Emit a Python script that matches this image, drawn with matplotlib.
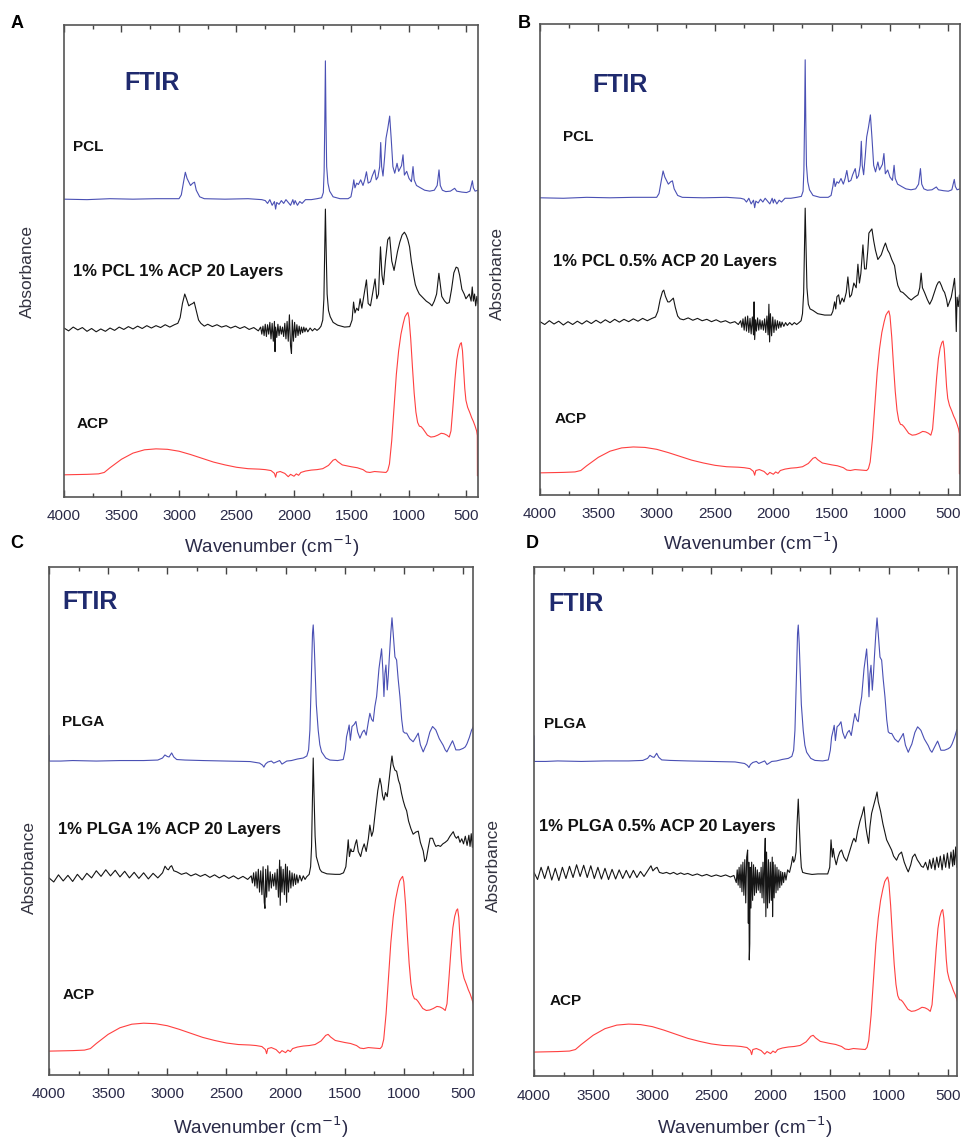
import matplotlib
matplotlib.use("Agg")
import matplotlib.pyplot as plt
import numpy as np

plt.rcParams['font.family'] = ['Liberation Sans', 'DejaVu Sans']

## spectra: (wavenumber, absorbance in panel-height units)
pcl = [(4000, .631), (3800, .630), (3600, .632), (3400, .631), (3200, .632), (3000, .632),
       (2980, .640), (2960, .668), (2945, .688), (2930, .675), (2900, .660), (2880, .665),
       (2865, .667), (2850, .650), (2820, .636), (2780, .632), (2600, .631), (2400, .632),
       (2280, .630), (2250, .628), (2230, .622), (2210, .630), (2190, .618), (2170, .626),
       (2160, .610), (2150, .624), (2130, .620), (2110, .628), (2090, .622), (2070, .630),
       (2050, .624), (2030, .618), (2010, .630), (2000, .620), (1990, .628), (1970, .618),
       (1950, .626), (1930, .622), (1900, .630), (1850, .630), (1800, .632), (1760, .634),
       (1745, .645), (1738, .690), (1732, .800), (1727, .924), (1722, .800), (1716, .700),
       (1705, .665), (1690, .648), (1660, .636), (1600, .632), (1530, .632), (1505, .636),
       (1490, .655), (1480, .672), (1470, .655), (1455, .665), (1440, .662), (1420, .672),
       (1400, .660), (1385, .672), (1370, .689), (1355, .665), (1335, .668), (1320, .680),
       (1298, .693), (1285, .672), (1270, .678), (1255, .700), (1246, .751), (1238, .700),
       (1226, .680), (1212, .720), (1200, .760), (1185, .780), (1168, .807), (1155, .760),
       (1140, .700), (1124, .686), (1104, .707), (1090, .690), (1065, .702), (1052, .725),
       (1040, .682), (1020, .690), (1000, .675), (979, .668), (965, .700), (955, .672),
       (935, .660), (900, .655), (864, .650), (820, .648), (780, .650), (755, .660),
       (739, .693), (728, .660), (710, .650), (680, .647), (640, .648), (603, .654),
       (585, .648), (540, .646), (500, .645), (470, .648), (449, .670), (440, .655),
       (425, .648), (400, .650)]

acp = [(4000, .047), (3800, .048), (3700, .049), (3650, .052), (3600, .062), (3500, .080),
       (3400, .093), (3300, .100), (3200, .102), (3100, .101), (3000, .097), (2900, .090),
       (2800, .082), (2700, .074), (2600, .068), (2500, .063), (2400, .060), (2300, .059),
       (2250, .058), (2200, .056), (2170, .050), (2160, .042), (2150, .052), (2120, .054),
       (2080, .050), (2050, .043), (2030, .048), (2000, .044), (1980, .049), (1960, .046),
       (1940, .052), (1900, .055), (1850, .057), (1800, .058), (1750, .060), (1700, .067),
       (1660, .078), (1640, .080), (1620, .075), (1580, .068), (1500, .064), (1450, .062),
       (1400, .058), (1370, .053), (1340, .052), (1300, .054), (1250, .053), (1200, .052),
       (1185, .056), (1170, .070), (1150, .120), (1130, .190), (1110, .260), (1090, .310),
       (1070, .345), (1050, .368), (1035, .382), (1020, .388), (1010, .391), (1000, .380),
       (985, .335), (970, .275), (955, .220), (940, .180), (925, .158), (910, .150),
       (895, .149), (880, .145), (860, .138), (840, .131), (810, .127), (780, .128),
       (750, .131), (720, .135), (695, .134), (670, .131), (650, .127), (635, .140),
       (620, .185), (600, .250), (585, .290), (570, .312), (555, .324), (545, .327),
       (535, .310), (525, .270), (515, .230), (505, .205), (490, .190), (470, .178),
       (455, .168), (440, .160), (425, .150), (412, .140), (406, .130), (405, .045),
       (400, .045)]

plga = [(4000, .668), (3998, .618), (3900, .618), (3800, .619), (3600, .618), (3400, .619),
        (3200, .619), (3080, .620), (3040, .624), (3020, .630), (3000, .627), (2985, .626),
        (2963, .634), (2945, .626), (2920, .621), (2850, .620), (2700, .619), (2500, .618),
        (2300, .617), (2220, .614), (2195, .610), (2183, .606), (2170, .612), (2150, .616),
        (2120, .618), (2100, .614), (2080, .616), (2050, .619), (2030, .612), (2010, .615),
        (1990, .618), (1950, .619), (1900, .622), (1850, .624), (1820, .628), (1805, .640),
        (1794, .679), (1782, .780), (1772, .870), (1766, .886), (1758, .850), (1750, .797),
        (1740, .730), (1724, .679), (1710, .650), (1695, .636), (1660, .624), (1625, .620),
        (1560, .619), (1512, .621), (1495, .640), (1484, .666), (1470, .680), (1462, .689),
        (1452, .659), (1438, .686), (1420, .690), (1405, .696), (1390, .675), (1371, .663),
        (1350, .675), (1335, .679), (1318, .669), (1300, .695), (1287, .712), (1272, .700),
        (1259, .696), (1245, .725), (1230, .745), (1210, .800), (1188, .839), (1178, .800),
        (1168, .745), (1160, .790), (1151, .807), (1140, .758), (1130, .790), (1123, .820),
        (1110, .870), (1100, .900), (1090, .870), (1075, .823), (1061, .817), (1048, .780),
        (1033, .745), (1018, .700), (1005, .676), (990, .673), (976, .673), (950, .662),
        (921, .656), (900, .664), (878, .673), (860, .650), (836, .636), (820, .645),
        (806, .652), (780, .675), (757, .686), (740, .682), (729, .679), (700, .662),
        (667, .649), (650, .640), (636, .636), (610, .648), (588, .658), (575, .650),
        (560, .640), (530, .640), (498, .643), (480, .646), (466, .652), (445, .665),
        (427, .679), (415, .684), (405, .690), (400, .692)]

mix_a = [(4000, .358), (3960, .352), (3920, .360), (3880, .354), (3840, .359), (3800, .351),
         (3760, .357), (3720, .350), (3680, .356), (3640, .351), (3600, .358), (3560, .353),
         (3520, .360), (3480, .355), (3440, .361), (3400, .356), (3360, .362), (3320, .357),
         (3280, .363), (3240, .358), (3200, .363), (3160, .359), (3120, .365), (3080, .360),
         (3040, .365), (3010, .368), (2990, .380), (2970, .410), (2950, .430), (2935, .420),
         (2915, .405), (2898, .408), (2880, .410), (2868, .413), (2850, .395), (2830, .375),
         (2810, .368), (2780, .362), (2750, .366), (2710, .361), (2670, .365), (2630, .360),
         (2590, .363), (2550, .358), (2510, .362), (2470, .357), (2430, .361), (2390, .355),
         (2350, .359), (2310, .352), (2290, .360), (2280, .345), (2270, .362), (2260, .342),
         (2250, .366), (2240, .340), (2230, .365), (2220, .345), (2210, .370), (2200, .335),
         (2190, .368), (2180, .330), (2170, .372), (2165, .308), (2160, .360), (2150, .338),
         (2140, .366), (2130, .342), (2120, .362), (2110, .345), (2100, .360), (2090, .340),
         (2080, .368), (2070, .335), (2060, .372), (2050, .330), (2040, .386), (2030, .320),
         (2022, .304), (2015, .375), (2005, .330), (1995, .370), (1985, .338), (1975, .365),
         (1965, .342), (1955, .362), (1945, .345), (1935, .360), (1925, .348), (1915, .360),
         (1905, .350), (1895, .358), (1880, .350), (1860, .358), (1840, .352), (1820, .357),
         (1800, .353), (1780, .357), (1765, .362), (1750, .375), (1740, .420), (1733, .520),
         (1727, .610), (1720, .520), (1712, .430), (1700, .395), (1685, .382), (1660, .370),
         (1620, .364), (1560, .360), (1515, .361), (1495, .375), (1482, .413), (1470, .390),
         (1455, .400), (1440, .395), (1425, .420), (1410, .400), (1390, .430), (1370, .460),
         (1355, .410), (1335, .405), (1310, .440), (1295, .462), (1280, .420), (1265, .430),
         (1248, .530), (1235, .470), (1222, .450), (1205, .500), (1185, .545), (1168, .551),
         (1150, .500), (1130, .480), (1115, .500), (1100, .520), (1080, .540), (1060, .555),
         (1040, .561), (1025, .555), (1010, .545), (995, .530), (980, .500), (960, .470),
         (945, .450), (930, .440), (910, .430), (890, .425), (870, .420), (850, .415),
         (820, .410), (800, .405), (780, .415), (760, .430), (740, .474), (730, .455),
         (715, .425), (690, .415), (670, .410), (650, .412), (630, .440), (610, .475),
         (590, .487), (575, .485), (560, .470), (540, .440), (520, .430), (505, .420),
         (490, .425), (475, .430), (460, .415), (450, .445), (440, .415), (430, .430),
         (420, .405), (410, .425), (400, .410)]

mix_b = [(4000, .368), (3960, .362), (3920, .370), (3880, .363), (3840, .369), (3800, .361),
         (3760, .368), (3720, .362), (3680, .369), (3640, .363), (3600, .370), (3560, .364),
         (3520, .371), (3480, .365), (3440, .372), (3400, .366), (3360, .373), (3320, .367),
         (3280, .373), (3240, .368), (3200, .374), (3160, .369), (3120, .375), (3080, .370),
         (3040, .375), (3010, .378), (2990, .390), (2970, .415), (2950, .432), (2939, .435),
         (2925, .422), (2905, .410), (2890, .410), (2870, .415), (2857, .418), (2840, .398),
         (2820, .380), (2800, .374), (2770, .372), (2730, .376), (2690, .371), (2650, .375),
         (2610, .370), (2570, .373), (2530, .368), (2490, .372), (2450, .367), (2410, .370),
         (2370, .365), (2330, .368), (2300, .362), (2280, .370), (2270, .356), (2260, .374),
         (2250, .350), (2240, .378), (2230, .348), (2220, .380), (2210, .345), (2200, .375),
         (2190, .342), (2180, .378), (2170, .340), (2165, .410), (2160, .330), (2152, .372),
         (2145, .348), (2135, .376), (2125, .350), (2115, .372), (2105, .352), (2095, .370),
         (2085, .350), (2075, .374), (2065, .345), (2055, .380), (2045, .340), (2038, .405),
         (2032, .325), (2025, .385), (2015, .338), (2005, .378), (1995, .345), (1985, .372),
         (1975, .350), (1965, .370), (1955, .354), (1945, .368), (1935, .356), (1925, .367),
         (1910, .358), (1895, .366), (1880, .360), (1860, .366), (1840, .361), (1820, .366),
         (1800, .362), (1780, .366), (1762, .370), (1750, .385), (1740, .430), (1733, .530),
         (1727, .609), (1720, .530), (1712, .440), (1700, .405), (1685, .395), (1661, .392),
         (1620, .385), (1560, .382), (1504, .382), (1490, .390), (1475, .410), (1465, .395),
         (1455, .421), (1440, .425), (1428, .405), (1410, .418), (1395, .410), (1375, .430),
         (1361, .463), (1345, .420), (1330, .425), (1310, .450), (1290, .440), (1275, .490),
         (1262, .450), (1250, .470), (1232, .531), (1218, .480), (1204, .480), (1190, .520),
         (1181, .556), (1170, .560), (1155, .565), (1140, .540), (1125, .520), (1104, .500),
         (1090, .505), (1075, .510), (1055, .525), (1039, .535), (1020, .520), (1004, .513),
         (985, .500), (961, .487), (945, .460), (933, .445), (910, .432), (890, .430),
         (860, .423), (840, .418), (818, .414), (790, .420), (760, .425), (745, .440),
         (733, .471), (722, .440), (704, .430), (680, .415), (660, .405), (640, .415),
         (620, .430), (600, .445), (585, .452), (575, .453), (560, .445), (545, .435),
         (532, .430), (515, .415), (505, .400), (490, .410), (475, .420), (460, .440),
         (447, .460), (440, .430), (432, .347), (425, .420), (415, .400), (405, .425),
         (400, .410)]

mix_c = [(4000, .388), (3960, .380), (3920, .394), (3880, .382), (3840, .393), (3800, .381),
         (3760, .395), (3720, .384), (3680, .397), (3640, .388), (3600, .402), (3560, .391),
         (3520, .404), (3480, .392), (3440, .403), (3400, .390), (3360, .401), (3320, .388),
         (3280, .399), (3240, .387), (3200, .398), (3160, .386), (3120, .397), (3080, .388),
         (3040, .398), (3019, .411), (3000, .405), (2990, .404), (2975, .410), (2963, .412),
         (2945, .402), (2920, .400), (2880, .395), (2840, .398), (2800, .392), (2760, .396),
         (2720, .391), (2680, .395), (2640, .389), (2600, .394), (2560, .388), (2520, .393),
         (2480, .387), (2440, .392), (2400, .386), (2360, .391), (2320, .385), (2290, .392),
         (2280, .378), (2270, .398), (2260, .372), (2250, .400), (2240, .368), (2230, .405),
         (2220, .360), (2210, .402), (2200, .355), (2190, .410), (2180, .340), (2174, .328),
         (2168, .405), (2160, .350), (2150, .412), (2140, .362), (2130, .400), (2120, .368),
         (2110, .395), (2100, .372), (2090, .398), (2080, .365), (2070, .405), (2060, .350),
         (2050, .423), (2045, .334), (2038, .410), (2030, .360), (2020, .405), (2010, .355),
         (2000, .415), (1991, .340), (1985, .410), (1975, .360), (1965, .402), (1955, .368),
         (1945, .398), (1935, .372), (1925, .396), (1915, .375), (1905, .394), (1895, .378),
         (1880, .393), (1865, .382), (1850, .392), (1835, .385), (1822, .390), (1800, .395),
         (1788, .410), (1780, .450), (1773, .540), (1766, .624), (1760, .560), (1750, .470),
         (1740, .430), (1724, .417), (1710, .405), (1695, .400), (1650, .396), (1580, .395),
         (1540, .395), (1510, .398), (1490, .410), (1478, .440), (1470, .463), (1460, .430),
         (1448, .445), (1440, .440), (1425, .440), (1410, .455), (1399, .463), (1385, .440),
         (1365, .430), (1350, .445), (1335, .455), (1318, .440), (1300, .465), (1287, .492),
         (1272, .470), (1259, .480), (1240, .520), (1220, .560), (1202, .584), (1190, .570),
         (1180, .550), (1168, .541), (1155, .556), (1148, .552), (1140, .548), (1125, .580),
         (1110, .610), (1100, .628), (1090, .610), (1075, .600), (1061, .598), (1045, .580),
         (1033, .572), (1020, .555), (1005, .540), (990, .528), (976, .520), (960, .500),
         (940, .485), (921, .474), (900, .478), (878, .480), (860, .458), (836, .441),
         (822, .420), (810, .425), (795, .445), (778, .466), (757, .466), (740, .455),
         (729, .450), (710, .452), (690, .450), (670, .455), (650, .458), (630, .462),
         (610, .470), (595, .475), (582, .479), (568, .470), (555, .466), (540, .470),
         (525, .458), (510, .465), (495, .455), (480, .470), (465, .452), (450, .472),
         (440, .450), (430, .475), (420, .448), (412, .478), (405, .455), (400, .480)]

mix_d = [(4000, .400), (3970, .386), (3940, .410), (3910, .388), (3880, .412), (3850, .385),
         (3820, .408), (3790, .384), (3760, .410), (3730, .388), (3700, .412), (3670, .390),
         (3640, .415), (3610, .392), (3580, .414), (3550, .390), (3520, .413), (3490, .388),
         (3460, .410), (3430, .387), (3400, .408), (3370, .386), (3340, .406), (3310, .387),
         (3280, .405), (3250, .388), (3220, .404), (3190, .389), (3160, .404), (3130, .390),
         (3100, .402), (3070, .392), (3040, .403), (3020, .410), (3011, .413), (2995, .403),
         (2975, .408), (2960, .410), (2940, .400), (2910, .398), (2880, .400), (2850, .397),
         (2820, .400), (2790, .396), (2760, .399), (2730, .396), (2700, .398), (2660, .394),
         (2620, .397), (2580, .393), (2540, .396), (2500, .392), (2460, .395), (2420, .392),
         (2380, .395), (2340, .391), (2310, .394), (2290, .380), (2282, .405), (2274, .375),
         (2266, .410), (2258, .370), (2250, .415), (2242, .362), (2234, .420), (2226, .355),
         (2218, .425), (2210, .340), (2202, .430), (2194, .444), (2188, .300), (2184, .420),
         (2180, .228), (2176, .260), (2172, .410), (2166, .330), (2160, .420), (2152, .345),
         (2144, .415), (2136, .355), (2128, .410), (2120, .360), (2112, .405), (2104, .365),
         (2096, .400), (2088, .360), (2080, .410), (2072, .350), (2064, .420), (2056, .340),
         (2050, .430), (2045, .467), (2040, .313), (2034, .440), (2026, .330), (2018, .425),
         (2010, .340), (2002, .420), (1994, .345), (1986, .430), (1983, .313), (1978, .420),
         (1970, .350), (1962, .415), (1954, .360), (1946, .410), (1938, .365), (1930, .405),
         (1922, .370), (1914, .402), (1906, .375), (1898, .400), (1890, .380), (1880, .400),
         (1870, .385), (1856, .405), (1840, .400), (1825, .415), (1813, .431), (1805, .420),
         (1795, .425), (1785, .440), (1777, .490), (1766, .544), (1758, .500), (1748, .440),
         (1740, .410), (1729, .400), (1700, .398), (1650, .396), (1600, .397), (1517, .397),
         (1500, .410), (1489, .464), (1478, .430), (1470, .447), (1460, .430), (1445, .415),
         (1430, .430), (1415, .440), (1400, .444), (1380, .430), (1357, .422), (1340, .435),
         (1320, .450), (1305, .462), (1295, .467), (1280, .460), (1265, .480), (1245, .500),
         (1225, .515), (1210, .529), (1195, .490), (1185, .475), (1171, .457), (1160, .490),
         (1146, .516), (1130, .530), (1110, .548), (1100, .558), (1090, .539), (1070, .520),
         (1050, .495), (1035, .480), (1019, .464), (1000, .455), (977, .444), (960, .432),
         (935, .424), (915, .435), (893, .440), (870, .420), (850, .408), (836, .401),
         (815, .415), (800, .430), (780, .436), (760, .425), (740, .418), (725, .412),
         (709, .410), (690, .420), (670, .405), (655, .425), (640, .408), (625, .428),
         (610, .405), (595, .430), (580, .410), (565, .432), (550, .405), (535, .435),
         (520, .410), (505, .438), (490, .408), (475, .440), (460, .412), (455, .444),
         (445, .415), (435, .450), (425, .410), (415, .455), (408, .420), (400, .445)]

ticks = [4000, 3500, 3000, 2500, 2000, 1500, 1000, 500]

BLUE = '#4a50b4'
RED = '#ff4040'
BLACK = '#151515'
NAVY = '#1f2a6e'

fig = plt.figure(figsize=(9.62, 11.39), dpi=100)


def panel(rect, spectra, names, spots, xright, letter, letter_xy, ylab_xy, xlab_xy):
    ax = fig.add_axes(rect)
    for spec, col in zip(spectra, [BLUE, BLACK, RED]):
        arr = np.array(spec)
        ax.plot(arr[:, 0], arr[:, 1], color=col, lw=0.8)
    ax.set_xlim(4000, xright)
    ax.set_ylim(0, 1)
    ax.set_xticks(ticks)
    ax.set_xticks(np.arange(3750, 400, -500), minor=True)
    ax.set_yticks([])
    ax.tick_params(axis='x', which='both', direction='in', top=True, bottom=True,
                   labelsize=11, labelcolor='#2a2a48', color='#444444', pad=9)
    ax.tick_params(axis='x', which='major', length=5, width=1)
    ax.tick_params(axis='x', which='minor', length=3, width=1)
    for s in ax.spines.values():
        s.set_color('#555555')
        s.set_linewidth(1.2)
    ax.text(spots[0][0], spots[0][1], 'FTIR', transform=ax.transAxes, fontsize=18,
            fontweight='bold', color=NAVY, va='center')
    for (x, y), nm in zip(spots[1:], names):
        ax.text(x, y, nm, transform=ax.transAxes, fontsize=12 if len(nm) > 5 else 11,
                fontweight='bold', color='#111111', va='center')
    fig.text(letter_xy[0] / 962, 1 - letter_xy[1] / 1139, letter, fontsize=13,
             fontweight='bold', ha='center', va='center')
    fig.text(ylab_xy[0] / 962, 1 - ylab_xy[1] / 1139, 'Absorbance', rotation=90,
             fontsize=12.5, color='#333340', ha='center', va='center')
    fig.text(xlab_xy[0] / 962, 1 - xlab_xy[1] / 1139, 'Wavenumber (cm$^{-1}$)',
             fontsize=13.5, color='#2a2a48', ha='center', va='center')
    return ax


panel([64 / 962, 1 - 497 / 1139, 414 / 962, 472 / 1139], [pcl, mix_a, acp],
      ['PCL', '1% PCL 1% ACP 20 Layers', 'ACP'],
      [(0.147, 0.877), (0.022, 0.742), (0.022, 0.477), (0.031, 0.155)],
      400, 'A', (17, 23), (27, 271), (272, 546))
panel([540 / 962, 1 - 495 / 1139, 420 / 962, 471 / 1139], [pcl, mix_b, acp],
      ['PCL', '1% PCL 0.5% ACP 20 Layers', 'ACP'],
      [(0.124, 0.870), (0.055, 0.760), (0.031, 0.495), (0.036, 0.161)],
      400, 'B', (524, 24), (497, 274), (751, 543))
panel([49 / 962, 1 - 1075 / 1139, 424 / 962, 508 / 1139], [plga, mix_c, acp],
      ['PLGA', '1% PLGA 1% ACP 20 Layers', 'ACP'],
      [(0.031, 0.931), (0.031, 0.695), (0.021, 0.484), (0.033, 0.157)],
      415, 'C', (17, 543), (29, 868), (261, 1127))
panel([534 / 962, 1 - 1076 / 1139, 423 / 962, 509 / 1139], [plga, mix_d, acp],
      ['PLGA', '1% PLGA 0.5% ACP 20 Layers', 'ACP'],
      [(0.035, 0.927), (0.024, 0.692), (0.012, 0.491), (0.038, 0.147)],
      424, 'D', (532, 543), (493, 866), (745, 1127))

plt.savefig("out.png", dpi=100)
